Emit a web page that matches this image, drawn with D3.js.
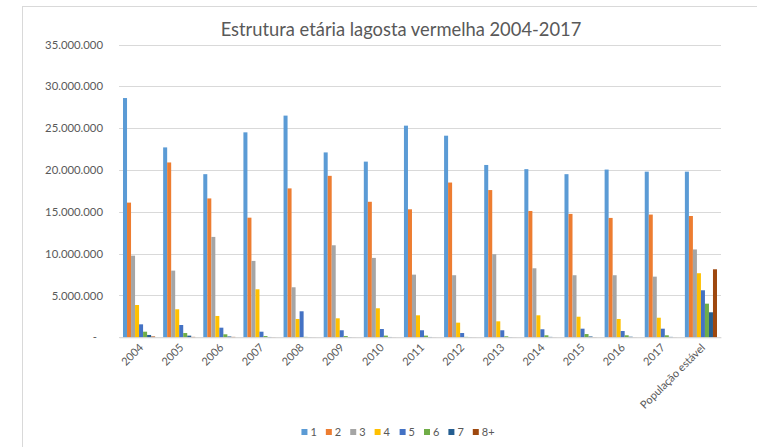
<!DOCTYPE html>
<html>
<head>
<meta charset="utf-8">
<script src="https://cdn.jsdelivr.net/npm/d3@7"></script>
<style>
  body { margin: 0; background: #fff; }
  text { font-family: Lato, "Open Sans", sans-serif; fill: #595959; }
</style>
</head>
<body>
<div id="chart"></div>
<script>
// categorias (anos) e series (classes de idade)
var anos = ["2004","2005","2006","2007","2008","2009","2010","2011","2012","2013","2014","2015","2016","2017","População estável"];
var classes = ["1","2","3","4","5","6","7","8+"];
var cores = ["#5B9BD5","#ED7D31","#A5A5A5","#FFC000","#4472C4","#70AD47","#255E91","#9E480E"];

// valores, um array por classe
var idade1  = [28600000,22700000,19500000,24500000,26500000,22100000,21000000,25300000,24100000,20600000,20100000,19500000,20050000,19800000,19800000];
var idade2  = [16100000,20900000,16600000,14300000,17800000,19300000,16200000,15300000,18500000,17600000,15100000,14750000,14270000,14670000,14500000];
var idade3  = [9760000,7970000,12000000,9130000,5980000,11000000,9490000,7490000,7420000,9930000,8250000,7420000,7420000,7250000,10500000];
var idade4  = [3860000,3350000,2550000,5740000,2190000,2270000,3470000,2630000,1750000,1910000,2630000,2460000,2190000,2340000,7660000];
var idade5  = [1550000,1470000,1150000,670000,3110000,840000,990000,840000,510000,840000,960000,1030000,750000,1030000,5620000];
var idade6  = [670000,510000,360000,150000,50000,150000,200000,200000,50000,120000,240000,390000,240000,240000,4020000];
var idade7  = [280000,200000,100000,40000,20000,30000,40000,40000,20000,30000,50000,100000,70000,50000,2990000];
var idade8  = [100000,50000,50000,20000,10000,10000,10000,10000,10000,10000,10000,20000,10000,10000,8130000];
var yTicks = [0,5000000,10000000,15000000,20000000,25000000,30000000,35000000];

var series = [idade1,idade2,idade3,idade4,idade5,idade6,idade7,idade8];

var W = 757, H = 447,
    plotL = 119, plotR = 721, plotT = 44.5, plotB = 337.3;

var svg = d3.select("#chart").append("svg")
            .attr("width", W)
            .attr("height", H);

// moldura do grafico
svg.append("rect")
   .attr("x", 22.5)
   .attr("y", 6.5)
   .attr("width", 800)
   .attr("height", 500)
   .attr("fill", "none")
   .attr("stroke", "#d9d9d9")
   .attr("stroke-width", 1);

var x0 = d3.scaleBand().domain(anos).range([plotL, plotR]).paddingInner(0).paddingOuter(0);
var x1 = d3.scaleBand().domain(classes).range([0, x0.bandwidth()]).paddingInner(0).paddingOuter(1);
var y = d3.scaleLinear().domain([0, 35000000]).range([plotB, plotT]);

var br = d3.formatLocale({decimal: ",", thousands: ".", grouping: [3], currency: ["", ""]});
var fmt = br.format(",");

// ajusta o tamanho da fonte para uma largura alvo
function ajusta(sel, base, alvo) {
    sel.style("font-size", base + "px");
    var w = sel.node().getComputedTextLength();
    return base * alvo / w;
}

// linhas de grade
svg.append("g")
   .selectAll("line")
   .data(yTicks)
   .enter()
   .append("line")
   .attr("x1", plotL)
   .attr("x2", plotR)
   .attr("y1", function(d) { return Math.round(y(d)) + 0.5; })
   .attr("y2", function(d) { return Math.round(y(d)) + 0.5; })
   .attr("stroke", "#d9d9d9")
   .attr("stroke-width", 1);

// eixo y
var yAxis = svg.append("g")
   .attr("transform", "translate(" + (plotL - 16) + ",0)")
   .call(d3.axisLeft(y).tickValues(yTicks).tickSize(0).tickPadding(0)
           .tickFormat(function(d) { return d === 0 ? "-" : fmt(d); }));
yAxis.select(".domain").remove();
var yTxt = yAxis.selectAll("text");
var fsY = ajusta(yTxt.filter(function(d) { return d === 35000000; }), 11, 58);
yTxt.style("font-size", fsY + "px")
    .attr("fill", "#595959")
    .attr("dx", function(d) { return d === 0 ? -6 : 0; });

// barras
var grupos = svg.append("g")
   .selectAll("g")
   .data(anos)
   .enter()
   .append("g")
   .attr("transform", function(d) { return "translate(" + x0(d) + ",0)"; });

grupos.selectAll("rect")
   .data(function(d, i) { return series.map(function(s, k) { return {classe: classes[k], v: s[i], k: k}; }); })
   .enter()
   .append("rect")
   .attr("x", function(d) { return x1(d.classe); })
   .attr("width", x1.bandwidth())
   .attr("y", function(d) { return y(d.v); })
   .attr("height", function(d) { return y(0) - y(d.v); })
   .attr("fill", function(d) { return cores[d.k]; });

// eixo x
var xAxis = svg.append("g")
   .attr("transform", "translate(0," + plotB + ")")
   .call(d3.axisBottom(x0).tickSize(0).tickPadding(0));
xAxis.select(".domain").attr("stroke", "#d9d9d9");
xAxis.selectAll("text")
     .style("font-size", "11px")
     .attr("fill", "#595959")
     .attr("text-anchor", "end")
     .attr("dy", null)
     .attr("y", 0)
     .attr("transform", "translate(5,11) rotate(-45)");

// titulo
var titulo = svg.append("text")
   .attr("x", 401)
   .attr("y", 36)
   .attr("text-anchor", "middle")
   .text("Estrutura etária lagosta vermelha 2004-2017");
titulo.style("font-size", ajusta(titulo, 17, 361) + "px");

// legenda
var leg = svg.append("g").attr("transform", "translate(0,432)");
var itens = leg.selectAll("g")
   .data(classes)
   .enter()
   .append("g");
itens.append("rect")
   .attr("y", -3)
   .attr("width", 6)
   .attr("height", 6)
   .attr("fill", function(d, i) { return cores[i]; });
itens.append("text")
   .attr("x", 9)
   .attr("y", 4)
   .style("font-size", "11px")
   .text(function(d) { return d; });
var pos = 0, larguras = [];
itens.each(function() {
    var w = this.getBBox().width;
    larguras.push(pos);
    pos += w + 9;
});
var inicio = 398 - (pos - 9) / 2;
itens.attr("transform", function(d, i) { return "translate(" + (inicio + larguras[i]) + ",0)"; });
</script>
</body>
</html>
